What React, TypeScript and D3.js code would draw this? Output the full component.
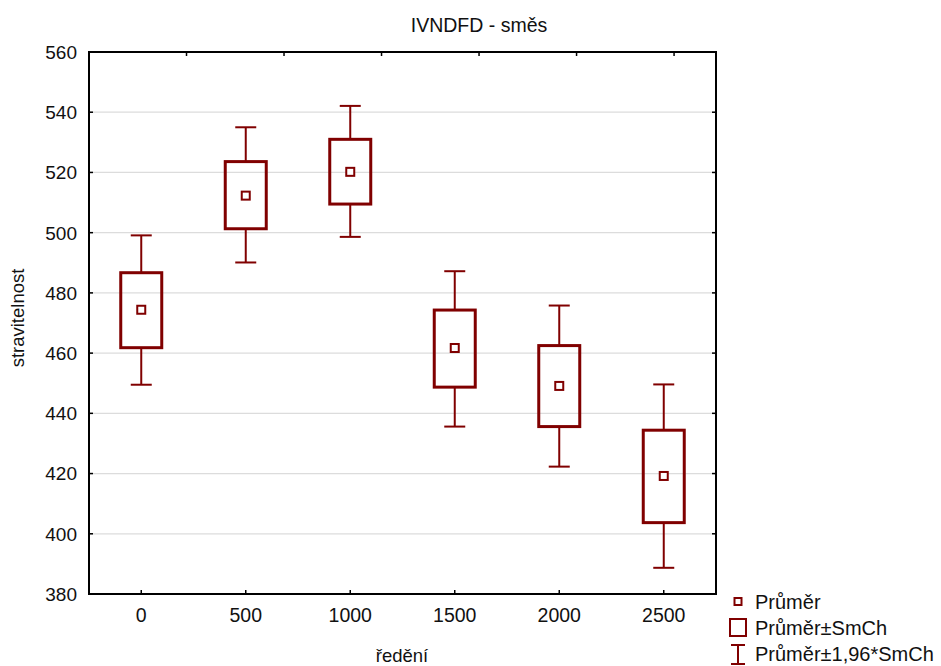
import React from "react";
import * as d3 from "d3";

const categories = ["0", "500", "1000", "1500", "2000", "2500"];
const means = [474.4, 512.3, 520.2, 461.7, 449.1, 419.2];
const seLow = [461.8, 501.3, 509.5, 448.7, 435.6, 403.7];
const seHigh = [486.7, 523.6, 531.0, 474.3, 462.5, 434.4];
const ciLow = [449.5, 490.1, 498.6, 435.6, 422.3, 388.7];
const ciHigh = [499.1, 535.0, 542.1, 487.2, 475.8, 449.6];
const yTicks = [380, 400, 420, 440, 460, 480, 500, 520, 540, 560];
const topTicks = [1, 2, 3, 4, 5, 6];
const legendLabels = ["Průměr", "Průměr±SmCh", "Průměr±1,96*SmCh"];
const title = "IVNDFD - směs";
const xTitle = "ředění";
const yTitle = "stravitelnost";

const W = 941;
const H = 666;
const M = { left: 89, right: 716, top: 52, bottom: 594 };
const RED = "#800000";
const FONT = "'Liberation Sans', Arial, sans-serif";

export default function App() {
  const x = d3.scaleBand<string>().domain(categories).range([M.left, M.right]).padding(0);
  const y = d3.scaleLinear().domain([380, 560]).range([M.bottom, M.top]);
  const xTop = d3.scaleLinear().domain([0, 6.43]).range([M.left, M.right]);
  const bw = 41;
  const cw = 21;
  const ms = 8;
  const tl = 4;

  return (
    <svg
      width={W}
      height={H}
      style={{ position: "absolute", left: 0, top: 0, background: "#fff" }}
      fontFamily={FONT}
    >
      <rect x={0} y={0} width={W} height={H} fill="#fff" />
      {yTicks.filter((t) => t > 380 && t < 560).map((t) => (
        <line key={"g" + t} x1={M.left} x2={M.right} y1={y(t)} y2={y(t)} stroke="#dcdcdc" strokeWidth={1.2} />
      ))}
      <text x={479} y={32} fontSize={19.5} textAnchor="middle" fill="#111">{title}</text>
      {yTicks.map((t) => (
        <text key={"yl" + t} x={77} y={y(t)} dy="0.36em" fontSize={19} textAnchor="end" fill="#111">{t}</text>
      ))}
      {categories.map((c) => (
        <text key={"xl" + c} x={(x(c) as number) + x.bandwidth() / 2} y={622} fontSize={19.5} textAnchor="middle" fill="#111">{c}</text>
      ))}
      <text x={402} y={662} fontSize={18.5} textAnchor="middle" fill="#111">{xTitle}</text>
      <text transform={`translate(24,318) rotate(-90)`} fontSize={18.5} textAnchor="middle" fill="#111">{yTitle}</text>

      {categories.map((c, i) => {
        const cx = (x(c) as number) + x.bandwidth() / 2;
        return (
          <g key={"b" + c}>
            <line x1={cx} x2={cx} y1={y(ciHigh[i])} y2={y(seHigh[i])} stroke={RED} strokeWidth={2} />
            <line x1={cx} x2={cx} y1={y(seLow[i])} y2={y(ciLow[i])} stroke={RED} strokeWidth={2} />
            <line x1={cx - cw / 2} x2={cx + cw / 2} y1={y(ciHigh[i])} y2={y(ciHigh[i])} stroke={RED} strokeWidth={2} />
            <line x1={cx - cw / 2} x2={cx + cw / 2} y1={y(ciLow[i])} y2={y(ciLow[i])} stroke={RED} strokeWidth={2} />
            <rect x={cx - bw / 2} y={y(seHigh[i])} width={bw} height={y(seLow[i]) - y(seHigh[i])} fill="none" stroke={RED} strokeWidth={3} />
            <rect x={cx - ms / 2} y={y(means[i]) - ms / 2} width={ms} height={ms} fill="#fff" stroke={RED} strokeWidth={2} />
          </g>
        );
      })}

      <rect x={M.left} y={M.top} width={M.right - M.left} height={M.bottom - M.top} fill="none" stroke="#000" strokeWidth={2} />
      {yTicks.map((t) => (
        <g key={"yt" + t}>
          <line x1={M.left} x2={M.left + tl} y1={y(t)} y2={y(t)} stroke="#000" strokeWidth={1.5} />
          <line x1={M.right} x2={M.right - tl} y1={y(t)} y2={y(t)} stroke="#000" strokeWidth={1.5} />
        </g>
      ))}
      {categories.map((c) => {
        const cx = (x(c) as number) + x.bandwidth() / 2;
        return <line key={"xt" + c} x1={cx} x2={cx} y1={M.bottom} y2={M.bottom - tl} stroke="#000" strokeWidth={1.5} />;
      })}
      {topTicks.map((k) => (
        <line key={"tt" + k} x1={xTop(k)} x2={xTop(k)} y1={M.top} y2={M.top + tl} stroke="#000" strokeWidth={1.5} />
      ))}

      <rect x={734.5} y={598} width={7} height={7} fill="#fff" stroke={RED} strokeWidth={2} />
      <rect x={730} y={619} width={16} height={17} fill="#fff" stroke={RED} strokeWidth={2} />
      <line x1={738} x2={738} y1={645} y2={664} stroke={RED} strokeWidth={2} />
      <line x1={731} x2={745} y1={645} y2={645} stroke={RED} strokeWidth={2} />
      <line x1={731} x2={745} y1={664} y2={664} stroke={RED} strokeWidth={2} />
      {legendLabels.map((l, i) => (
        <text key={l} x={755} y={609 + i * 26} fontSize={20} fill="#111">{l}</text>
      ))}
    </svg>
  );
}
